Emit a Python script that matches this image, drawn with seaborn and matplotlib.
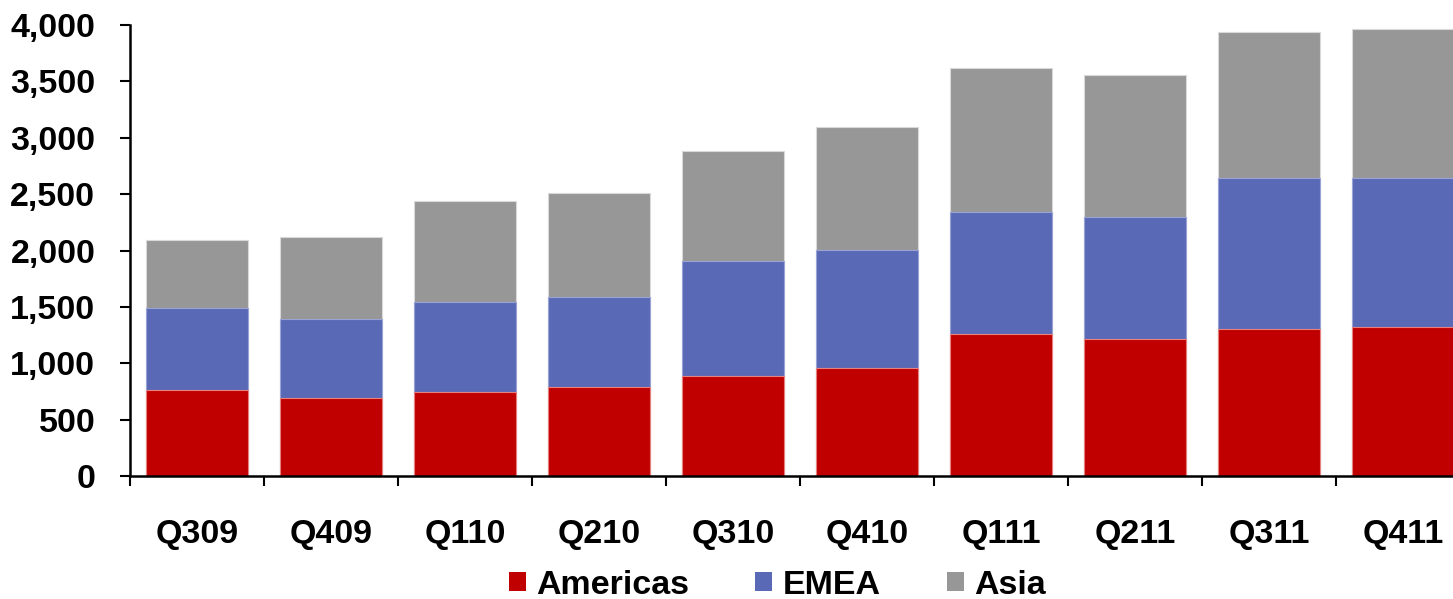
import numpy as np
import pandas as pd
import matplotlib
matplotlib.use("Agg")
import matplotlib.pyplot as plt
from matplotlib.patches import Patch
import seaborn as sns

# data
quarters = ["Q309", "Q409", "Q110", "Q210", "Q310", "Q410", "Q111", "Q211", "Q311", "Q411"]
americas = [762, 696, 741, 785, 886, 957, 1259, 1218, 1301, 1319]
emea = [728, 694, 806, 803, 1019, 1046, 1082, 1075, 1339, 1321]
asia = [605, 732, 892, 922, 978, 1096, 1277, 1266, 1295, 1322]
yticks = [0, 500, 1000, 1500, 2000, 2500, 3000, 3500, 4000]
ytick_labels = ["0", "500", "1,000", "1,500", "2,000", "2,500", "3,000", "3,500", "4,000"]

colors = {"Americas": "#C00000", "EMEA": "#5A69B5", "Asia": "#979797"}

sns.set_style("white")
plt.rcParams["font.family"] = ["Liberation Sans", "DejaVu Sans"]
plt.rcParams["font.weight"] = "bold"
plt.rcParams["text.color"] = "black"
plt.rcParams["xtick.color"] = "black"
plt.rcParams["ytick.color"] = "black"

df = pd.DataFrame({"quarter": quarters, "Americas": americas, "EMEA": emea, "Asia": asia})
# cumulative heights for stacking (draw tallest first)
df["EMEA_top"] = df["Americas"] + df["EMEA"]
df["Asia_top"] = df["EMEA_top"] + df["Asia"]

fig = plt.figure(figsize=(14.53, 5.99), dpi=100)
ax = fig.add_axes([130 / 1453, 123 / 599, 1340 / 1453, 451 / 599])

sns.barplot(data=df, x="quarter", y="Asia_top", color=colors["Asia"], width=0.76,
            saturation=1, edgecolor="#d9d9d9", linewidth=0.8, ax=ax)
sns.barplot(data=df, x="quarter", y="EMEA_top", color=colors["EMEA"], width=0.76,
            saturation=1, edgecolor="#9aa3d6", linewidth=0.8, ax=ax)
sns.barplot(data=df, x="quarter", y="Americas", color=colors["Americas"], width=0.76,
            saturation=1, edgecolor="#e88080", linewidth=0.8, ax=ax)

ax.set_xlim(-0.5, len(quarters) - 0.5)
ax.set_ylim(0, 4000)
ax.set_xlabel("")
ax.set_ylabel("")

ax.set_yticks(yticks)
ax.set_yticklabels(ytick_labels, fontsize=24.5, fontweight="bold")
ax.tick_params(axis="y", direction="out", length=7, width=1.5, pad=18, left=True)

# category labels centered, ticks on category boundaries
ax.set_xticks(range(len(quarters)))
ax.set_xticklabels(quarters, fontsize=24.5, fontweight="bold")
ax.tick_params(axis="x", which="major", length=0, pad=31)
ax.set_xticks(np.arange(-0.5, len(quarters), 1.0), minor=True)
ax.tick_params(axis="x", which="minor", direction="out", length=7, width=1.5, bottom=True)

sns.despine(ax=ax, top=True, right=True)
for side in ["left", "bottom"]:
    ax.spines[side].set_color("black")
    ax.spines[side].set_linewidth(1.8)

handles = [Patch(facecolor=colors[k], edgecolor="none", label=k) for k in ["Americas", "EMEA", "Asia"]]
fig.legend(handles=handles, loc="center", bbox_to_anchor=(777 / 1453, 14 / 599), ncol=3,
           frameon=False, prop={"size": 24.5, "weight": "bold"}, handlelength=0.5,
           handleheight=0.5, handletextpad=0.3, columnspacing=1.95)

fig.savefig("out.png", dpi=100)
